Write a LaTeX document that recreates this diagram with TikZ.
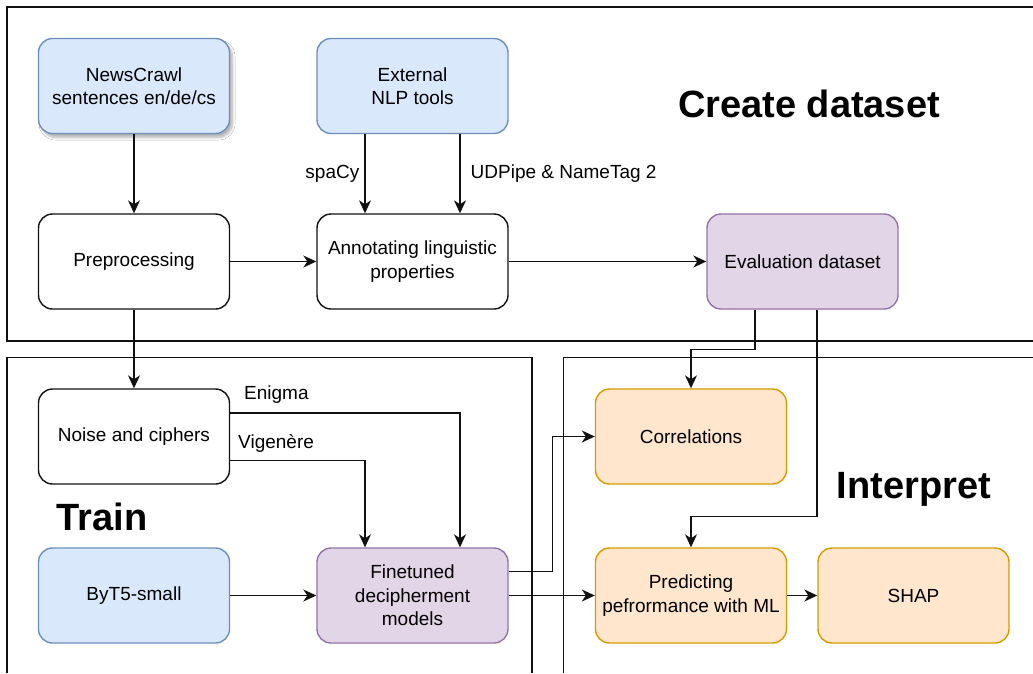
\documentclass[tikz,border=0pt]{standalone}
\usepackage{fontspec}
\setmainfont{Liberation Sans}
\usetikzlibrary{arrows.meta,calc,shadows.blur}
\definecolor{bluefill}{HTML}{DAE8FC}
\definecolor{bluedraw}{HTML}{6C8EBF}
\definecolor{purpfill}{HTML}{E1D5E7}
\definecolor{purpdraw}{HTML}{9673A6}
\definecolor{orfill}{HTML}{FFE6CC}
\definecolor{ordraw}{HTML}{D79B00}
\definecolor{linec}{HTML}{111111}
\tikzset{
  box/.style={draw=linec, line width=1.4pt, rounded corners=14pt, minimum width=191pt, minimum height=95pt,
    align=center, font=\fontsize{19}{23.5}\selectfont, inner sep=2pt},
  bluebox/.style={box, fill=bluefill, draw=bluedraw},
  purpbox/.style={box, fill=purpfill, draw=purpdraw},
  orbox/.style={box, fill=orfill, draw=ordraw},
  arr/.style={draw=linec, line width=1.4pt, -{Stealth[length=13pt,width=12pt,inset=4pt]}},
  frame/.style={draw=linec, line width=1.4pt},
  lbl/.style={font=\fontsize{19}{22}\selectfont, inner sep=0pt},
  title/.style={font=\fontsize{38}{40}\selectfont\bfseries, inner sep=0pt, anchor=base}
}
\begin{document}
\begin{tikzpicture}[x=1pt,y=-1pt]
\useasboundingbox[fill=white] (0,0) rectangle (1033,673);
% frames
\draw[frame] (1033,7) -- (7,7) -- (7,341) -- (1033,341);
\draw[frame] (7,673) -- (7,357.5) -- (532,357.5) -- (532,673);
\draw[frame] (563.5,673) -- (563.5,357.5) -- (1033,357.5);
% titles
\node[title] (tcreate) at (809,117) {Create dataset};
\node[title] (ttrain) at (102,530) {Train};
\node[title] (tinterp) at (914,498) {Interpret};
% nodes
\node[bluebox, blur shadow={shadow xshift=3pt, shadow yshift=-4pt, shadow blur steps=6, shadow blur radius=2.5pt, shadow opacity=30}] (news) at (134,86) {NewsCrawl\\sentences en/de/cs};
\node[bluebox] (ext) at (412.5,86) {External\\NLP tools};
\node[box] (pre) at (134,261.5) {Preprocessing};
\node[box] (ann) at (412.5,261.5) {Annotating linguistic\\properties};
\node[purpbox] (eval) at (802.5,261.5) {Evaluation dataset};
\node[box] (noise) at (134,436.5) {Noise and ciphers};
\node[bluebox] (byt5) at (134,595.5) {ByT5-small};
\node[purpbox] (fine) at (412.5,595.5) {Finetuned\\decipherment\\models};
\node[orbox] (corr) at (691,436.5) {Correlations};
\node[orbox] (pred) at (691,595.5) {Predicting\\pefrormance with ML};
\node[orbox] (shap) at (913.5,595.5) {SHAP};
% connectors
\draw[arr] (news) -- (pre);
\draw[arr] ([xshift=-47.5pt]ext.south) -- node[lbl, left, xshift=-5pt] {spaCy} ([xshift=-47.5pt]ann.north);
\draw[arr] ([xshift=47.5pt]ext.south) -- node[lbl, right, xshift=10pt] {UDPipe \& NameTag 2} ([xshift=47.5pt]ann.north);
\draw[arr] (pre) -- (ann);
\draw[arr] (ann) -- (eval);
\draw[arr] (pre) -- (noise);
\draw[arr] ([xshift=-47.5pt]eval.south) -- ++(0,40) -| (corr.north);
\draw[arr] ([xshift=14.5pt]eval.south) -- ++(0,206.5) -| (pred.north);
\draw[arr] ($(noise.east)+(0,-23.5)$) -| ([xshift=47.5pt]fine.north);
\draw[arr] ($(noise.east)+(0,24)$) -| ([xshift=-47.5pt]fine.north);
\node[lbl, anchor=west] (lenigma) at (244,395) {Enigma};
\node[lbl, anchor=west] (lvig) at (238,443) {Vigenère};
\draw[arr] (byt5) -- (fine);
\draw[arr] ($(fine.east)+(0,-24)$) -- ++(43.5,0) |- (corr.west);
\draw[arr] (fine) -- (pred);
\draw[arr] (pred) -- (shap);
\end{tikzpicture}
\end{document}
